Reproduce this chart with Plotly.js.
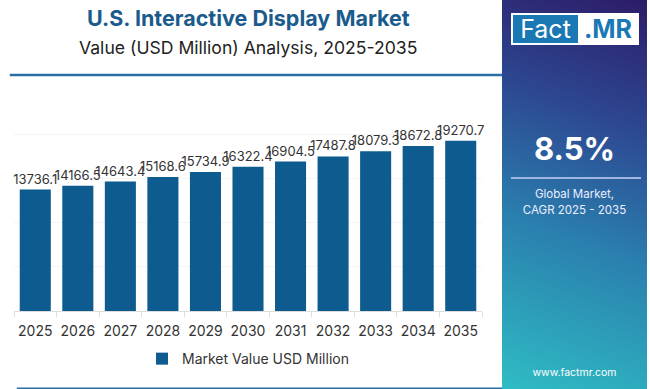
<!DOCTYPE html>
<html>
<head>
<meta charset="utf-8">
<script src="https://cdn.plot.ly/plotly-3.0.1.min.js"></script>
<style>
  html, body { margin:0; padding:0; background:#fff; }
  #wrap { position:relative; width:650px; height:389px; overflow:hidden; font-family: Inter, "Open Sans", sans-serif; }
  #chart { position:absolute; left:0; top:0; width:650px; height:389px; }
  #panel { position:absolute; left:502px; top:0; width:145px; height:389px;
    background: linear-gradient(20deg, #2fbcc4 0%, #2a7fae 40%, #2d4791 70%, #2d1c68 100%); }
  #logo { position:absolute; left:9px; top:13px; width:128px; height:32px; background:#fff; }
  #logo .f { position:absolute; left:2px; top:2px; width:65px; height:28px; background:#1a78b4; color:#fff;
    font-size:25px; line-height:28px; text-align:center; font-family: Inter, sans-serif; }
  #logo .m { position:absolute; left:68px; top:2px; width:58px; height:28px; color:#1a78b4;
    font-size:25px; font-weight:700; line-height:28px; text-align:center; font-family: Inter, sans-serif; }
  #cagr { position:absolute; left:0; width:145px; top:130px; text-align:center; color:#fff; font-size:31px; font-weight:700; font-family: Inter, sans-serif; }
  #hr { position:absolute; left:9px; width:130px; top:177px; height:2px; background:#9fb7e0; }
  #gm { position:absolute; left:0; width:145px; top:186px; text-align:center; color:#eef; font-size:11.5px; line-height:16px; font-family: Inter, sans-serif; }
  #www { position:absolute; left:0; width:145px; top:366px; text-align:center; color:#fff; font-size:10.5px; font-family: Inter, sans-serif; }
</style>
</head>
<body>
<div id="wrap">
  <div id="chart"></div>
  <div id="panel">
    <div id="logo"><div class="f">Fact</div><div class="m">.MR</div></div>
    <div id="cagr">8.5%</div>
    <div id="hr"></div>
    <div id="gm">Global Market,<br>CAGR 2025 - 2035</div>
    <div id="www">www.factmr.com</div>
  </div>
</div>
<script>
const years = ["2025","2026","2027","2028","2029","2030","2031","2032","2033","2034","2035"];
const marketValue = [13736.1, 14166.5, 14643.4, 15168.6, 15734.9, 16322.4, 16904.5, 17487.8, 18079.3, 18672.8, 19270.7];
const seriesName = "Market Value USD Million";
const titleText = "U.S. Interactive Display Market";
const subtitleText = "Value (USD Million) Analysis, 2025-2035";

const trace = {
  type: "bar",
  x: years,
  y: marketValue,
  name: seriesName,
  marker: { color: "#0d5b8f" },
  texttemplate: "%{y:.1f}",
  textposition: "outside",
  constraintext: "none",
  textfont: { size: 13, color: "#333", family: "Inter, 'Open Sans', sans-serif" },
  cliponaxis: false,
  showlegend: true,
  hoverinfo: "x+y"
};

const layout = {
  width: 650, height: 389,
  margin: { l: 14, r: 168, t: 90, b: 78, pad: 0, autoexpand: false },
  paper_bgcolor: "#fff",
  plot_bgcolor: "#fff",
  font: { family: "Inter, 'Open Sans', sans-serif", color: "#333" },
  bargap: 0.27,
  showlegend: true,
  legend: { orientation: "h", x: 0.5, xanchor: "center", y: -0.145, yanchor: "top",
            font: { size: 14, color: "#333" } },
  xaxis: { type: "category", tickson: "boundaries", ticks: "outside", ticklen: 5,
           tickangle: 0, automargin: false, ticklabelstandoff: 7,
           tickcolor: "#ddd", showline: true, linecolor: "#ddd", showgrid: false,
           tickfont: { size: 14, color: "#333" }, fixedrange: true },
  yaxis: { range: [0, 25000], dtick: 5000, showticklabels: false, showgrid: true,
           automargin: false,
           gridcolor: "#f4f4f4", zeroline: false, fixedrange: true },
  annotations: [
    { text: "<b>" + titleText + "</b>", xref: "paper", yref: "paper", x: 0.5, y: 1, yshift: 72,
      xanchor: "center", yanchor: "middle", showarrow: false,
      font: { size: 21.5, color: "#1b5b8c" } },
    { text: subtitleText, xref: "paper", yref: "paper", x: 0.5, y: 1, yshift: 43,
      xanchor: "center", yanchor: "middle", showarrow: false,
      font: { size: 17.6, color: "#222" } }
  ],
  shapes: [
    { type: "line", xref: "paper", yref: "paper", x0: -0.009, x1: 1.05,
      ysizemode: "pixel", yanchor: 1, y0: 15, y1: 15,
      line: { color: "#2a6fa3", width: 2.5 } },
    { type: "line", xref: "paper", yref: "paper", x0: 0.006, x1: 1.05,
      ysizemode: "pixel", yanchor: 0, y0: -78, y1: -78,
      line: { color: "#2a6fa3", width: 3 } }
  ]
};

Plotly.newPlot("chart", [trace], layout, { displayModeBar: false, staticPlot: true });
</script>
</body>
</html>
